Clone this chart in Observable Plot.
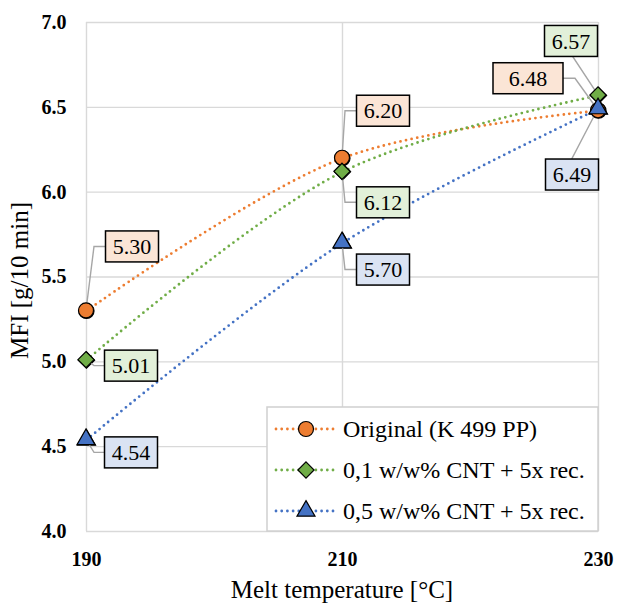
<!DOCTYPE html>
<html>
<head>
<meta charset="utf-8">
<script src="https://cdn.jsdelivr.net/npm/d3@7"></script>
<script src="https://cdn.jsdelivr.net/npm/@observablehq/plot@0.6"></script>
<style>
  html, body { margin: 0; padding: 0; background: #fff; }
  #chart svg, #chart svg text { font-family: "Liberation Serif", "Times New Roman", serif !important; }
  #chart g[aria-label="x-axis tick label"] text,
  #chart g[aria-label="y-axis tick label"] text { font-weight: bold; }
</style>
</head>
<body>
<div id="chart"></div>
<script>
// ---- data ----
const temps = [190, 210, 230];
const original = [5.30, 6.20, 6.48];
const cnt01 = [5.01, 6.12, 6.57];
const cnt05 = [4.54, 5.70, 6.49];
const seriesNames = ["Original (K 499 PP)", "0,1 w/w% CNT + 5x rec.", "0,5 w/w% CNT + 5x rec."];
const yTicks = [4.0, 4.5, 5.0, 5.5, 6.0, 6.5, 7.0];
const xTicks = [190, 210, 230];
const xTitle = "Melt temperature [°C]";
const yTitle = "MFI [g/10 min]";

// ---- styling / layout ----
const FONT = "Liberation Serif, Times New Roman, serif";
const colors = ["#ED7D31", "#70AD47", "#4472C4"];
const boxFills = ["#FBE5D6", "#E2F0D9", "#DAE3F3"];
const symbols = ["circle", "diamond2", "triangle2"];
const d3symbols = [d3.symbolCircle, d3.symbolDiamond2, d3.symbolTriangle2];
const radii = [7.5, 7.3, 8.6];
// label box offsets (pixels) from the point: box centre (dx,dy), leader elbow (ex,ey), box width w
const labelLayout = [
  [{dx: 46, dy: -64, ex: 8, ey: -64, w: 53}, {dx: 41, dy: -47, ex: 3, ey: -47, w: 53}, {dx: -70, dy: -32, ex: -23, ey: -32, w: 70}],
  [{dx: 45, dy: 6, ex: 8, ey: 6, w: 53}, {dx: 41, dy: 31, ex: 3, ey: 31, w: 53}, {dx: -27, dy: -54, ex: -25, ey: -38, w: 53}],
  [{dx: 45, dy: 13, ex: 8, ey: 13, w: 53}, {dx: 41, dy: 27, ex: 3, ey: 27, w: 53}, {dx: -26, dy: 66, ex: -26, ey: 50, w: 53}]
];

const W = 617, H = 608;
const M = {left: 86, right: 19, top: 22, bottom: 77};

const seriesValues = [original, cnt01, cnt05];
const rows = seriesValues.map((vals, s) => temps.map((t, i) => ({series: s, x: t, y: vals[i]})));

const lineStyle = {strokeWidth: 2.8, strokeDasharray: "0 5.7", strokeLinecap: "round"};

const plot = Plot.plot({
  width: W,
  height: H,
  marginLeft: M.left,
  marginRight: M.right,
  marginTop: M.top,
  marginBottom: M.bottom,
  style: {background: "#fff", overflow: "visible"},
  x: {domain: [190, 230]},
  y: {domain: [4, 7]},
  marks: [
    Plot.gridY(yTicks, {stroke: "#d9d9d9", strokeOpacity: 1, strokeWidth: 1.4}),
    Plot.gridX(xTicks, {stroke: "#d9d9d9", strokeOpacity: 1, strokeWidth: 1.4}),
    Plot.axisY(yTicks, {tickSize: 0, tickPadding: 20, tickFormat: d3.format(".1f"), fontSize: 20, fontWeight: "bold", fill: "#000", label: null}),
    Plot.axisX(xTicks, {tickSize: 0, tickPadding: 20, tickFormat: d => String(d), fontSize: 20, fontWeight: "bold", fill: "#000", label: null}),
    ...rows.map((r, s) => Plot.line(r, {x: "x", y: "y", stroke: colors[s], curve: "catmull-rom", ...lineStyle})),
    ...rows.map((r, s) => Plot.dot(r, {x: "x", y: "y", symbol: symbols[s], r: radii[s], fill: colors[s], stroke: "#000", strokeWidth: 1.2}))
  ]
});

document.getElementById("chart").appendChild(plot);

// ---- data labels with callout boxes, positioned through Plot's scales ----
const sx = plot.scale("x"), sy = plot.scale("y");
const svg = d3.select(plot);
const labelG = svg.append("g").attr("class", "data-labels").attr("font-family", FONT);
const BH = 31;
rows.forEach((r, s) => {
  r.forEach((d, i) => {
    const L = labelLayout[s][i];
    const px = sx.apply(d.x), py = sy.apply(d.y);
    const bx = px + L.dx, by = py + L.dy;
    const ex = px + L.ex, ey = py + L.ey;
    let ax, ay;
    if (Math.abs(ey - by) <= BH / 2) {
      ax = ex < bx ? bx - L.w / 2 : bx + L.w / 2; ay = ey;
    } else {
      ax = ex; ay = ey < by ? by - BH / 2 : by + BH / 2;
    }
    labelG.append("polyline")
      .attr("points", [[px, py], [ex, ey], [ax, ay]].map(p => p.join(",")).join(" "))
      .attr("fill", "none").attr("stroke", "#a6a6a6").attr("stroke-width", 1.4);
  });
});
// redraw markers above leader lines
rows.forEach((r, s) => {
  r.forEach(d => {
    labelG.append("path")
      .attr("d", d3.symbol(d3symbols[s], Math.PI * radii[s] * radii[s])())
      .attr("transform", `translate(${sx.apply(d.x)},${sy.apply(d.y)})`)
      .attr("fill", colors[s]).attr("stroke", "#000").attr("stroke-width", 1.2);
  });
});
rows.forEach((r, s) => {
  r.forEach((d, i) => {
    const L = labelLayout[s][i];
    const bx = sx.apply(d.x) + L.dx, by = sy.apply(d.y) + L.dy;
    labelG.append("rect")
      .attr("x", bx - L.w / 2).attr("y", by - BH / 2).attr("width", L.w).attr("height", BH)
      .attr("fill", boxFills[s]).attr("stroke", "#000").attr("stroke-width", 1.5);
    labelG.append("text")
      .attr("x", bx).attr("y", by).attr("dy", "0.35em")
      .attr("text-anchor", "middle").attr("font-size", 22).attr("fill", "#000")
      .text(d.y.toFixed(2));
  });
});

// ---- axis titles ----
svg.append("text")
  .attr("x", (M.left + W - M.right) / 2).attr("y", 598)
  .attr("text-anchor", "middle").attr("font-family", FONT).attr("font-size", 25).attr("fill", "#000")
  .text(xTitle);
svg.append("text")
  .attr("transform", `translate(28,${(M.top + H - M.bottom) / 2 + 4}) rotate(-90)`)
  .attr("text-anchor", "middle").attr("font-family", FONT).attr("font-size", 25).attr("fill", "#000")
  .text(yTitle);

// ---- legend (inside plot area, bottom-right) ----
const frameR = W - M.right, frameB = H - M.bottom;
const LW = 331, LH = 124;
const lg = svg.append("g").attr("transform", `translate(${frameR - LW},${frameB - LH})`).attr("font-family", FONT);
lg.append("rect").attr("width", LW).attr("height", LH)
  .attr("fill", "#fff").attr("stroke", "#d0d0d0").attr("stroke-width", 1.5);
seriesNames.forEach((name, s) => {
  const y = 22 + s * 41;
  lg.append("line").attr("x1", 9).attr("x2", 67).attr("y1", y).attr("y2", y)
    .attr("stroke", colors[s]).attr("stroke-width", lineStyle.strokeWidth)
    .attr("stroke-dasharray", lineStyle.strokeDasharray).attr("stroke-linecap", "round");
  lg.append("path")
    .attr("d", d3.symbol(d3symbols[s], Math.PI * radii[s] * radii[s])())
    .attr("transform", `translate(39,${y})`)
    .attr("fill", colors[s]).attr("stroke", "#000").attr("stroke-width", 1.2);
  lg.append("text").attr("x", 76).attr("y", y).attr("dy", "0.35em")
    .attr("text-anchor", "start")
    .attr("font-size", 24).attr("fill", "#000").text(name);
});
</script>
</body>
</html>
